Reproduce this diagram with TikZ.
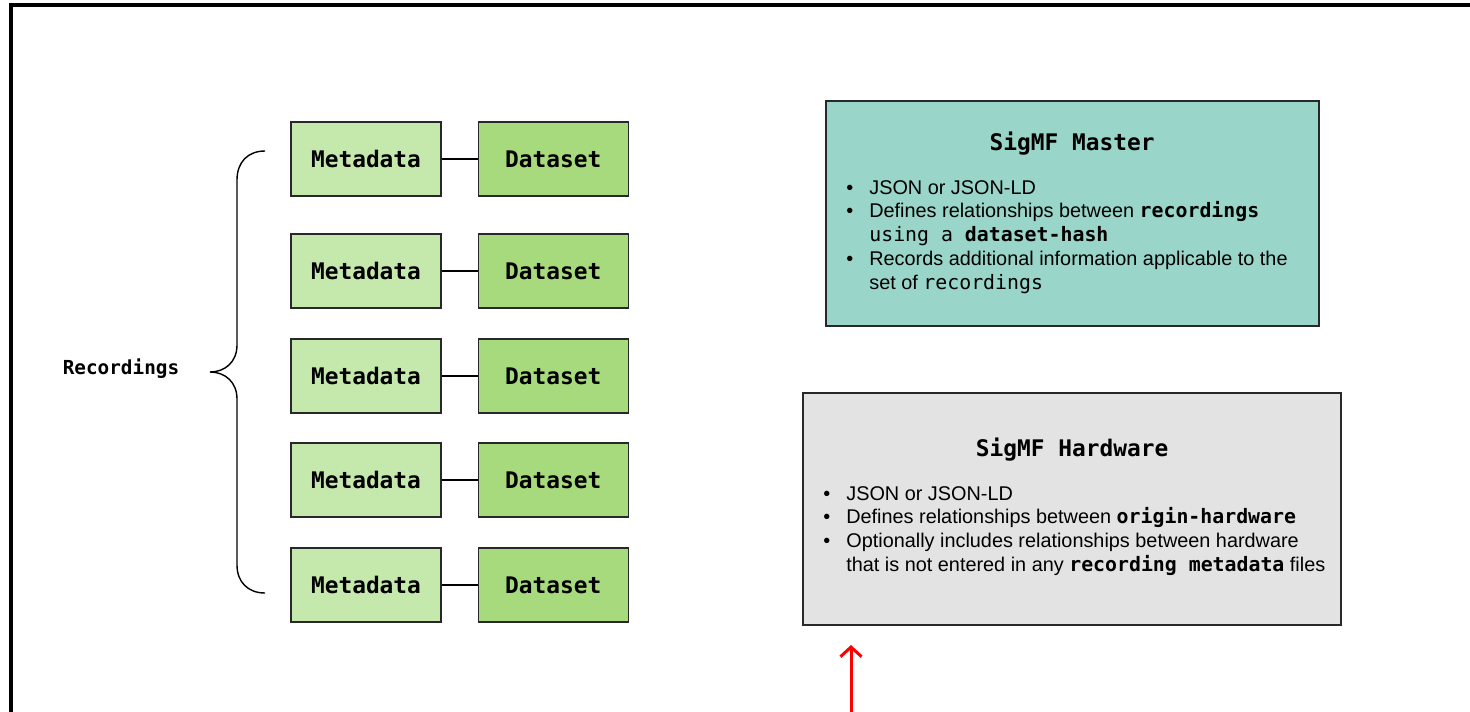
\documentclass[tikz,border=0pt]{standalone}
\usepackage{fontspec}
\setmainfont{Liberation Sans}
\setmonofont{DejaVu Sans Mono}
\usepackage{tikz}
\usetikzlibrary{arrows.meta,positioning}
\definecolor{metagreen}{RGB}{197,232,173}
\definecolor{datagreen}{RGB}{166,218,124}
\definecolor{masterteal}{RGB}{153,213,201}
\definecolor{hwgray}{RGB}{227,227,227}
\definecolor{edgegray}{RGB}{40,40,40}
\tikzset{>={Straight Barb[length=5.5pt,width=12pt]},node distance=0.72cm}
\tikzset{
  filebox/.style={draw=edgegray,line width=0.8pt,minimum width=3cm,minimum height=1.48cm,inner sep=0pt,font=\fontsize{13pt}{15pt}\selectfont\ttfamily\bfseries},
  specbox/.style={draw=edgegray,line width=0.8pt,inner sep=0pt},
  spectitle/.style={font=\fontsize{13pt}{15pt}\selectfont\ttfamily\bfseries},
  speclist/.style={anchor=north west,inner sep=0pt,font=\fontsize{11.3pt}{13.6pt}\selectfont,align=left}
}
\newcommand{\bmono}[1]{\texttt{\bfseries #1}}

\begin{document}
\begin{tikzpicture}[x=0.02cm,y=-0.02cm]
  \clip (0,0) rectangle (1470,711);
  \draw[line width=2pt] (11,5) rectangle (1500,740);
  % recordings: metadata + dataset pairs
  \foreach \n/\y in {1/159,2/271,3/376,4/480,5/585}{
    \node[filebox,fill=metagreen] (m\n) at (366,\y) {Metadata};
    \node[filebox,fill=datagreen] (d\n) [right=of m\n] {Dataset};
    \draw[line width=1.3pt] (m\n) -- (d\n);
  }
  \node[font=\fontsize{11pt}{13pt}\selectfont\ttfamily\bfseries] (rec) at (121,369) {Recordings};
  \draw[line width=0.8pt] (265,151) .. controls (248,151) and (237,162) .. (237,180) -- (237,345)
    .. controls (237,362) and (225,372) .. (210,372) .. controls (225,372) and (237,382) .. (237,399)
    -- (237,565) .. controls (237,582) and (248,593) .. (265,593);
  % master
  \node[specbox,fill=masterteal,minimum width=9.86cm,minimum height=4.5cm] (master) at (1072.5,213.5) {};
  \node[spectitle] (mtitle) at (1072,144) {SigMF Master};
  \node[speclist] (mlist) at (846,177) {\begin{tabular}{@{}p{0.46cm}@{}l@{}}
    \textbullet & JSON or JSON-LD\\
    \textbullet & Defines relationships between \bmono{recordings}\\
                & \texttt{using a \bfseries dataset-hash}\\
    \textbullet & Records additional information applicable to the\\
                & set of \texttt{recordings}
  \end{tabular}};
  % hardware
  \node[specbox,fill=hwgray,minimum width=10.76cm,minimum height=4.64cm] (hw) at (1072,509) {};
  \node[spectitle] (hwtitle) at (1072,450) {SigMF Hardware};
  \node[speclist] (hwlist) at (823,483) {\begin{tabular}{@{}p{0.46cm}@{}l@{}}
    \textbullet & JSON or JSON-LD\\
    \textbullet & Defines relationships between \bmono{origin-hardware}\\
    \textbullet & Optionally includes relationships between hardware\\
                & that is not entered in any \bmono{recording metadata} files
  \end{tabular}};
  \coordinate (hwarrow) at (851,720);
  \coordinate (hwpoint) at (851,645);
  \draw[->,red,line width=1.7pt] (hwarrow) -- (hwpoint);
\end{tikzpicture}
\end{document}
